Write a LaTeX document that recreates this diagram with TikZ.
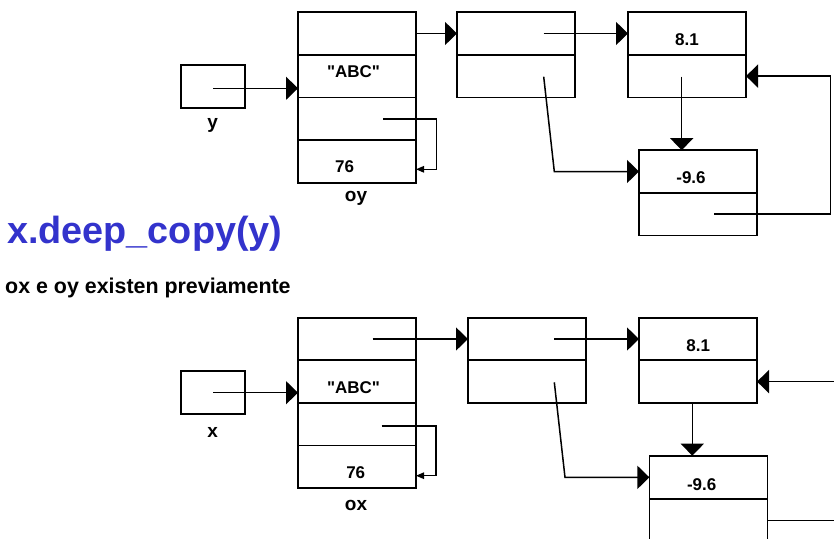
\documentclass[tikz,border=0pt]{standalone}
\usepackage{fontspec}
\setmainfont{Liberation Sans}[Ligatures=TeXOff]
\usetikzlibrary{arrows.meta}
\definecolor{titleblue}{HTML}{3333CC}
\begin{document}
\begin{tikzpicture}[x=1pt,y=-1pt,
  cell/.style={draw,line width=1.8pt,minimum width=118pt,minimum height=42.6pt,inner sep=0pt,outer sep=0pt},
  varbox/.style={draw,line width=1.8pt,minimum width=64pt,minimum height=43pt,inner sep=0pt,outer sep=0pt},
  link/.style={line width=1.5pt,-{Triangle[length=12pt,width=23pt]}},
  selflink/.style={line width=1.3pt,-{Triangle[length=8pt,width=6.5pt]}},
  plain/.style={line width=1.5pt},
  val/.style={font=\fontsize{17}{20}\selectfont\bfseries,anchor=base,inner sep=0pt},
  lab/.style={font=\fontsize{19}{22}\selectfont\bfseries,anchor=base,inner sep=0pt},
]
\useasboundingbox (0,0) rectangle (834,538);
\clip (0,0) rectangle (834,538);

% ---------------- top: y ----------------
\node[varbox] (yb) at (212.85,86.5) {};
\node[lab] (ylab) at (212.7,128.5) {y};
\node[cell] (oyA) at (357,33.5) {};
\node[cell] (oyB) at (357,76.1) {};
\node[cell] (oyC) at (357,118.7) {};
\node[cell] (oyD) at (357,161.3) {};
\node[val] (oyBt) at (353.5,77.7) {"ABC"};
\node[val] (oyDt) at (344.5,172.3) {76};
\node[lab] (oylab) at (356,201.7) {oy};

\node[cell] (tn2a) at (516,33.5) {};
\node[cell] (tn2b) at (516,76.1) {};
\node[cell] (tn3a) at (687,33.5) {};
\node[cell] (tn3b) at (687,76.1) {};
\node[val] (tn3t) at (687,45.8) {8.1};
\node[cell] (tn4a) at (698,171.5) {};
\node[cell] (tn4b) at (698,214.1) {};
\node[val] (tn4t) at (691,183.3) {-9.6};

\coordinate (ys) at (213,88.3);
\draw[link] (ys) -- (ys -| oyB.west);
\draw[link] (oyA.east) -- (tn2a.west);
\coordinate (t2s) at (543.7,33.5);
\draw[link] (t2s) -- (tn3a.west);
\coordinate (t3s) at (681.7,76.7);
\draw[link] (t3s) -- (t3s |- tn4a.north);
\coordinate (t2bs) at (543.7,76.7);
\coordinate (t2bm) at (554.3,171.5);
\draw[link] (t2bs) -- (t2bm) -- (tn4a.west);
\coordinate (t4s) at (714,214);
\coordinate (t4r) at (830.7,214);
\draw[link] (t4s) -- (t4r) -- (t4r |- tn3b.east) -- (tn3b.east);
\coordinate (tss) at (383.3,119);
\coordinate (tsr) at (436.7,119);
\coordinate (tsb) at (436.7,169.3);
\draw[selflink] (tss) -- (tsr) -- (tsb) -- (tsb -| oyD.east);

% ---------------- title ----------------
\node[anchor=base west,inner sep=0pt,text=titleblue,font=\fontsize{37.8}{42}\selectfont\bfseries] (title) at (7,243) {x.deep\_copy(y)};
\node[anchor=base west,inner sep=0pt,font=\fontsize{21.4}{25}\selectfont\bfseries] (sub) at (5,293) {ox e oy existen previamente};

% ---------------- bottom: x ----------------
\node[varbox] (xb) at (212.85,392.35) {};
\node[lab] (xlab) at (212.7,437.3) {x};
\node[cell] (oxA) at (357,339.0) {};
\node[cell] (oxB) at (357,381.6) {};
\node[cell] (oxC) at (357,424.2) {};
\node[cell] (oxD) at (357,466.8) {};
\node[val] (oxBt) at (353.5,393.4) {"ABC"};
\node[val] (oxDt) at (355.7,478.8) {76};
\node[lab] (oxlab) at (356,510) {ox};

\node[cell] (bn2a) at (527,339.0) {};
\node[cell] (bn2b) at (527,381.6) {};
\node[cell] (bn3a) at (698,339.0) {};
\node[cell] (bn3b) at (698,381.6) {};
\node[val] (bn3t) at (698.3,351.8) {8.1};
\node[cell,minimum height=43.3pt] (bn4a) at (708.4,477.35) {};
\node[cell,minimum height=43.3pt] (bn4b) at (708.4,520.65) {};
\node[val] (bn4t) at (701.7,490.1) {-9.6};

\coordinate (xs) at (213,392.7);
\draw[link] (xs) -- (xs -| oxB.west);
\coordinate (b1s) at (372.7,339.0);
\draw[link] (b1s) -- (bn2a.west);
\coordinate (b2s) at (554.3,339.0);
\draw[link] (b2s) -- (bn3a.west);
\coordinate (b3x) at (692.3,400);
\draw[link] (b3x |- bn3b.south) -- (b3x |- bn4a.north);
\coordinate (b2bs) at (554.3,382.3);
\coordinate (b2bm) at (565,477.35);
\draw[link] (b2bs) -- (b2bm) -- (bn4a.west);
\coordinate (bre) at (834,381.6);
\draw[link] (bre) -- (bn3b.east);
\coordinate (bre2) at (834,520.65);
\draw[plain] (bn4b.east) -- (bre2);
\coordinate (bss) at (381.7,426);
\coordinate (bsr) at (436,426);
\coordinate (bsb) at (436,475.7);
\draw[selflink] (bss) -- (bsr) -- (bsb) -- (bsb -| oxD.east);
\end{tikzpicture}
\end{document}
